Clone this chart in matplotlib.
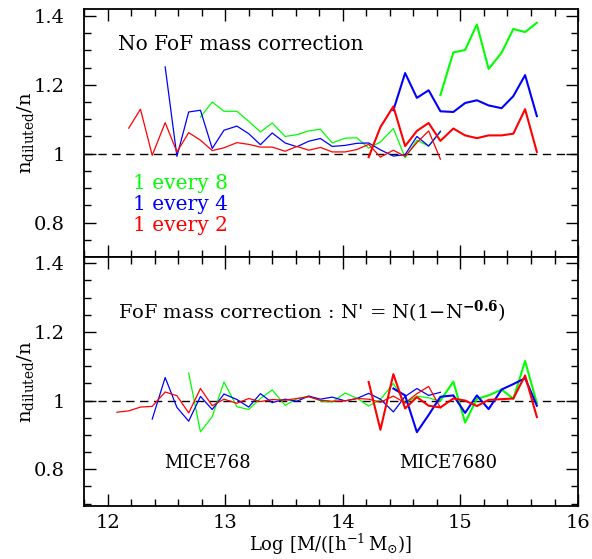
import numpy as np
import matplotlib
matplotlib.use("Agg")
import matplotlib.pyplot as plt
from matplotlib.ticker import MultipleLocator, FuncFormatter

plt.rcParams['font.family'] = 'DejaVu Serif'
plt.rcParams['mathtext.fontset'] = 'dejavuserif'

# log mass bin centres shared by both simulations
logm = [12.08, 12.18, 12.28, 12.38, 12.49, 12.59, 12.69, 12.79, 12.89, 12.99,
        13.10, 13.20, 13.30, 13.40, 13.51, 13.61, 13.71, 13.81, 13.91, 14.02,
        14.12, 14.22, 14.32, 14.43, 14.53, 14.63, 14.73, 14.83, 14.94, 15.04,
        15.14, 15.24, 15.35, 15.45, 15.55, 15.65]
end_768 = 27    # last bin of MICE768
end_7680 = 35   # last bin of MICE7680

# n_diluted / n without FoF mass correction
raw_red_768 = [1.074, 1.129, 0.995, 1.090, 1.005, 1.061, 1.039, 1.009, 1.017, 1.032,
               1.027, 1.019, 1.019, 1.007, 1.021, 1.010, 1.018, 1.005, 1.005, 1.012,
               1.027, 0.990, 1.010, 0.992, 1.032, 1.066, 0.984]
raw_blue_768 = [1.252, 0.992, 1.121, 1.126, 1.015, 1.068, 1.080, 1.058, 1.026, 1.060,
                1.031, 1.020, 1.036, 1.044, 1.021, 1.024, 1.030, 1.031, 1.011, 0.993,
                0.997, 1.050, 1.022, 1.065]
raw_green_768 = [1.106, 1.150, 1.123, 1.123, 1.094, 1.063, 1.089, 1.050, 1.055, 1.066,
                 1.071, 1.031, 1.045, 1.046, 1.016, 1.034, 1.073, 0.988, 1.039, 1.022,
                 1.063]
raw_red_7680 = [0.990, 1.077, 1.137, 1.022, 1.066, 1.089, 1.037, 1.073, 1.053, 1.045,
                1.053, 1.053, 1.058, 1.129, 1.005]
raw_blue_7680 = [1.126, 1.234, 1.162, 1.184, 1.123, 1.121, 1.147, 1.155, 1.140, 1.132,
                 1.167, 1.228, 1.109]
raw_green_7680 = [1.170, 1.294, 1.301, 1.375, 1.246, 1.293, 1.362, 1.353, 1.380]

# n_diluted / n with N' = N(1 - N^-0.6)
cor_red_768 = [0.966, 0.970, 0.981, 0.983, 1.025, 1.014, 0.964, 1.035, 0.985, 1.004,
               0.992, 1.006, 0.997, 1.003, 1.001, 1.006, 1.011, 1.001, 0.998, 0.999,
               1.006, 1.004, 0.995, 1.013, 0.993, 1.020, 1.041, 0.979]
cor_blue_768 = [0.946, 1.067, 0.980, 0.940, 1.012, 0.974, 1.019, 1.003, 0.981, 1.020,
                0.994, 1.004, 0.998, 1.013, 1.004, 1.010, 0.999, 1.006, 1.021, 1.004,
                0.967, 1.012, 1.035, 1.015, 1.024]
cor_green_768 = [1.080, 0.909, 0.953, 1.054, 0.982, 0.974, 1.006, 1.031, 0.986, 1.005,
                 1.013, 0.999, 0.995, 1.022, 1.007, 0.984, 1.003, 1.050, 0.992, 1.013,
                 1.008, 0.998]
cor_red_7680 = [1.054, 0.915, 1.077, 0.977, 1.010, 0.985, 0.980, 1.006, 1.000, 0.984,
                1.002, 1.004, 1.006, 1.073, 0.952]
cor_blue_7680 = [1.035, 1.015, 0.908, 0.958, 1.011, 1.015, 0.964, 1.015, 0.975, 1.032,
                 1.048, 1.065, 0.985]
cor_green_7680 = [1.000, 1.055, 0.936, 1.005, 1.015, 1.032, 1.005, 1.115, 0.992]

GREEN, BLUE, RED = '#00ff00', '#0000ff', '#ff0000'


def xs(vals, end):
    return logm[end - len(vals) + 1:end + 1]


def style_axis(ax, ylo, yhi):
    ax.set_xlim(11.8, 16)
    ax.set_ylim(ylo, yhi)
    ax.axhline(1.0, color='k', lw=1.0, dashes=(6, 4), zorder=1)
    ax.xaxis.set_major_locator(MultipleLocator(1))
    ax.xaxis.set_minor_locator(MultipleLocator(0.2))
    ax.yaxis.set_major_locator(MultipleLocator(0.2))
    ax.yaxis.set_minor_locator(MultipleLocator(0.05))
    ax.yaxis.set_major_formatter(FuncFormatter(lambda v, p: '%g' % round(v, 2)))
    ax.tick_params(which='both', direction='in', top=True, right=True,
                   labelsize=14, width=1.0)
    ax.tick_params(axis='y', which='major', pad=14)
    ax.tick_params(axis='x', which='major', pad=6)
    ax.tick_params(which='major', length=8.5)
    ax.tick_params(which='minor', length=5)
    for s in ax.spines.values():
        s.set_linewidth(1.3)
    ax.text(-0.118, 0.5, r'$\mathrm{n_{diluted}/n}$', fontsize=14,
            rotation=90, ha='center', va='center', transform=ax.transAxes)


fig = plt.figure(figsize=(5.92, 5.59), dpi=100)
ax1 = fig.add_axes([0.1419, 0.5403, 0.8345, 0.4436])
ax2 = fig.add_axes([0.1419, 0.0948, 0.8345, 0.4455], sharex=ax1)

thin, thick = 0.9, 1.5

# top panel
for vals, c in [(raw_green_768, GREEN), (raw_blue_768, BLUE), (raw_red_768, RED)]:
    ax1.plot(xs(vals, end_768), vals, color=c, lw=thin, zorder=3)
for vals, c in [(raw_green_7680, GREEN), (raw_blue_7680, BLUE), (raw_red_7680, RED)]:
    ax1.plot(xs(vals, end_7680), vals, color=c, lw=thick, zorder=3)
style_axis(ax1, 0.70, 1.42)
ax1.tick_params(axis='x', labelbottom=False)
ax1.text(0.069, 0.855, 'No FoF mass correction', transform=ax1.transAxes,
         fontsize=14.5, va='center', ha='left')
for y, lab, c in [(0.298, '1 every 8', GREEN), (0.213, '1 every 4', BLUE),
                  (0.128, '1 every 2', RED)]:
    ax1.text(0.099, y, lab, color=c, transform=ax1.transAxes,
             fontsize=14.5, va='center', ha='left')

# bottom panel
for vals, c in [(cor_green_768, GREEN), (cor_blue_768, BLUE), (cor_red_768, RED)]:
    ax2.plot(xs(vals, end_768), vals, color=c, lw=thin, zorder=3)
for vals, c in [(cor_green_7680, GREEN), (cor_blue_7680, BLUE), (cor_red_7680, RED)]:
    ax2.plot(xs(vals, end_7680), vals, color=c, lw=thick, zorder=3)
style_axis(ax2, 0.693, 1.418)
ax2.text(0.069, 0.78, r"FoF mass correction : N' = N(1$-$N$^{\mathbf{-0.6}}$)",
         transform=ax2.transAxes, fontsize=14, va='center', ha='left')
ax2.text(0.249, 0.173, 'MICE768', transform=ax2.transAxes, fontsize=13,
         va='center', ha='center')
ax2.text(0.737, 0.173, 'MICE7680', transform=ax2.transAxes, fontsize=13,
         va='center', ha='center')
fig.text(0.559, 0.004, r'Log $[\mathrm{M}/([\mathrm{h}^{-1}\,\mathrm{M}_{\odot})]$',
         fontsize=13, ha='center', va='bottom')

fig.savefig('out.png', dpi=100)
